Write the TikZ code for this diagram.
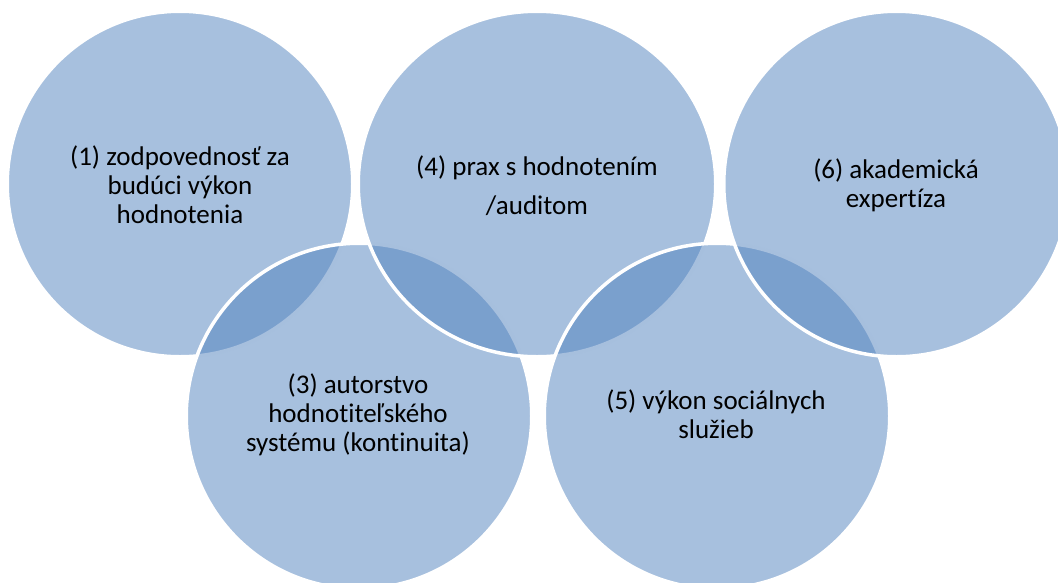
\documentclass[tikz,border=0pt]{standalone}
\usepackage{fontspec}
\setmainfont{Carlito}[Ligatures={NoCommon}]
\usetikzlibrary{shapes.geometric}
\definecolor{accblue}{HTML}{4F81BD}
\tikzset{
  ring/.style={circle, fill=accblue, fill opacity=0.5, draw=white, draw opacity=1,
    line width=3.5pt, minimum size=345.5pt, inner sep=0pt, outer sep=0pt},
  oval/.style={ellipse, fill=accblue, fill opacity=0.5, draw=white, draw opacity=1,
    line width=3.5pt, minimum width=357.5pt, minimum height=345.5pt, inner sep=0pt, outer sep=0pt},
  lbl/.style={font=\fontsize{27}{29}\selectfont, align=center, anchor=base,
    inner sep=0pt, text=black}
}
\begin{document}
\begin{tikzpicture}[x=1pt,y=-1pt]
\useasboundingbox (0,0) rectangle (1058,582);
\node[ring] (c1) at (180,184) {};
\node[ring] (c3) at (359,416) {};
\node[oval] (c4) at (537,184) {};
\node[ring] (c5) at (717,416) {};
\node[ring] (c6) at (896.5,184) {};
\node[lbl] (t1) at (180,223.6) {(1) zodpovednosť za\\budúci výkon\\hodnotenia};
\node[lbl, font=\fontsize{27}{39}\selectfont] (t4) at (537,214.5) {(4) prax s hodnotením\\/auditom};
\node[lbl] (t6) at (896,207.8) {(6) akademická\\expertíza};
\node[lbl] (t3) at (358,451.7) {(3) autorstvo\\hodnotiteľského\\systému (kontinuita)};
\node[lbl] (t5) at (716,438) {(5) výkon sociálnych\\služieb};
\end{tikzpicture}
\end{document}
